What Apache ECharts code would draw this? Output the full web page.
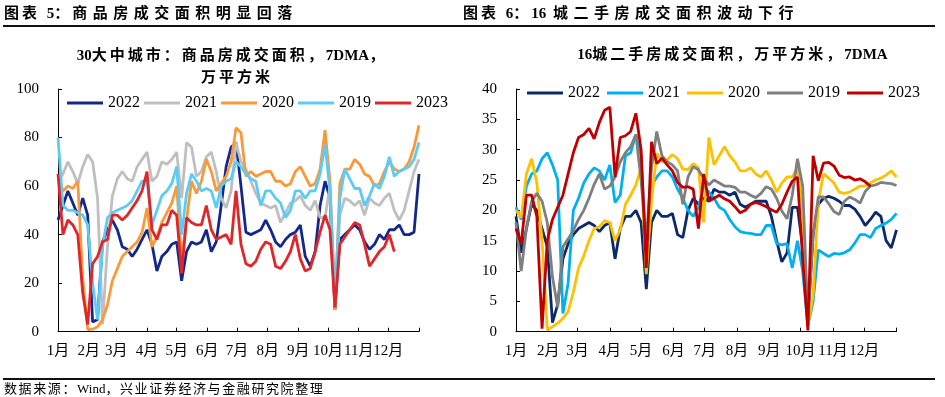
<!DOCTYPE html>
<html>
<head>
<meta charset="utf-8">
<script src="https://cdn.jsdelivr.net/npm/echarts@6/dist/echarts.min.js"></script>
<style>
  html, body { margin: 0; padding: 0; background: #fff; }
  #page { position: relative; width: 945px; height: 397px; overflow: hidden; }
  #chartL { position: absolute; left: 0; top: 0; width: 470px; height: 397px; }
  #chartR { position: absolute; left: 470px; top: 0; width: 475px; height: 397px; }
  .txt { position: absolute; white-space: nowrap; color: #000;
         font-family: 'Liberation Serif', 'Noto Sans CJK SC', serif; z-index: 2; }
  .head { font-size: 15px; font-weight: bold; top: 4px; line-height: 18px; letter-spacing: 3px; }
  .head .w { letter-spacing: 5.5px; }
  .ctitle { font-size: 15px; font-weight: bold; letter-spacing: 3px; text-align: center; line-height: 18px; }
  .lat { letter-spacing: 0; }
  .rule { position: absolute; left: 3px; width: 932px; height: 2px; background: #111; z-index: 2; }
  .src { font-size: 13px; letter-spacing: 1.6px; left: 4px; top: 381px; line-height: 16px; }
</style>
</head>
<body>
<div id="page">
  <div class="txt head" style="left:4px">图表 <span class="lat">5</span>：<span class="w">商品房成交面积明显回落</span></div>
  <div class="txt head" style="left:463px">图表 <span class="lat">6</span>：<span class="lat">16</span> <span class="w">城二手房成交面积波动下行</span></div>
  <div class="rule" style="top:25px"></div>
  <div class="txt ctitle" style="left:62px; width:340px; top:46px"><span class="lat">30</span>大中城市：商品房成交面积，<span class="lat">7DMA</span>，</div>
  <div class="txt ctitle" style="left:162px; width:150px; top:68px">万平方米</div>
  <div class="txt ctitle" style="left:560px; width:345px; top:45px"><span class="lat">16</span>城二手房成交面积，万平方米，<span class="lat">7DMA</span></div>
  <div id="chartL"></div>
  <div id="chartR"></div>
  <div class="rule" style="top:378px"></div>
  <div class="txt src">数据来源：<span class="lat">Wind</span>，兴业证券经济与金融研究院整理</div>
</div>
<script>
// 每 5 天取一个点（第 0,5,10,...,365 天）
const STEP = 5
const MONTH_START = [0, 31, 59, 90, 120, 151, 181, 212, 243, 273, 304, 334]
const MONTHS = ['1月', '2月', '3月', '4月', '5月', '6月', '7月', '8月', '9月', '10月', '11月', '12月']
const YEARS = ['2022', '2021', '2020', '2019', '2023']

// 30大中城市 商品房成交面积 7DMA，万平方米
const new2022 = [46, 52, 58, 53, 48, 55, 48, 4, 5, 37, 42, 46, 42, 35, 34, 31, 34, 38, 42, 36,
  25, 31, 33, 36, 37, 21, 33, 37, 36, 37, 42, 33, 37, 52, 68, 76, 78, 60, 41, 40,
  41, 42, 46, 42, 37, 35, 38, 40, 41, 44, 31, 27, 33, 52, 62, 55, 9, 38, 40, 42,
  44, 42, 37, 34, 36, 40, 38, 42, 42, 44, 40, 40, 41, 65]
const new2021 = [62, 65, 70, 66, 61, 68, 73, 70, 55, 3, 35, 56, 63, 66, 63, 62, 68, 71, 74, 62,
  64, 70, 69, 71, 74, 55, 78, 76, 64, 66, 72, 74, 66, 55, 51, 58, 78, 70, 67, 62,
  57, 53, 52, 51, 52, 45, 49, 53, 54, 56, 52, 50, 54, 47, 47, 60, 12, 48, 55, 54,
  52, 54, 48, 55, 53, 52, 55, 57, 50, 46, 50, 58, 66, 71]
const new2020 = [64, 58, 60, 59, 62, 22, 1, 1, 2, 5, 11, 21, 26, 31, 33, 35, 37, 41, 51, 35,
  39, 45, 49, 53, 60, 30, 46, 62, 57, 62, 71, 66, 58, 61, 64, 70, 84, 82, 64, 66,
  64, 65, 66, 66, 62, 62, 60, 61, 66, 68, 64, 60, 61, 67, 83, 62, 9, 61, 67, 67,
  71, 69, 65, 64, 60, 61, 66, 70, 67, 66, 67, 70, 76, 85]
const new2019 = [80, 52, 50, 50, 49, 48, 44, 20, 5, 35, 47, 49, 50, 51, 52, 54, 58, 62, 62, 44,
  50, 56, 58, 61, 68, 40, 57, 65, 62, 58, 59, 58, 51, 60, 62, 63, 70, 68, 65, 63,
  62, 52, 58, 58, 55, 53, 47, 50, 58, 58, 55, 58, 58, 65, 77, 58, 12, 55, 67, 63,
  59, 59, 52, 56, 61, 59, 64, 72, 64, 66, 67, 68, 71, 78]
const new2023 = [65, 40, 46, 44, 40, 16, 3, 28, 31, 37, 38, 48, 48, 46, 48, 51, 54, 58, 66, 42,
  38, 44, 44, 50, 48, 24, 47, 45, 44, 44, 52, 42, 38, 39, 40, 36, 58, 36, 28, 27,
  29, 34, 37, 36, 27, 26, 29, 33, 40, 30, 25, 26, 33, 41, 48, 42, 10, 36, 39, 42,
  45, 44, 36, 27, 30, 33, 35, 40, 33]

// 16城 二手房成交面积 7DMA，万平方米
const sec2022 = [19, 13, 17, 21, 20, 17, 14, 1.5, 4.5, 12, 14.5, 16, 17, 17.5, 18, 17.5, 16.5, 17.5, 18, 12,
  17, 19, 19, 20, 18, 7, 18, 20, 19, 19, 19.5, 16, 15.5, 20, 22, 21, 22, 21.5, 23.5, 23,
  23, 22.5, 23, 21, 20.5, 21, 21.5, 21.5, 21.5, 19, 15, 11.5, 13, 20.5, 20.5, 14, 2, 16, 21, 22,
  22.3, 22, 21.5, 20.8, 20.8, 20.2, 19, 17.5, 18.5, 19.7, 19, 15, 13.8, 16.8]
const sec2021 = [20.5, 18.5, 24, 26, 26.5, 28.5, 29.5, 27.5, 25, 3, 8, 20, 22, 24.5, 26, 27, 26.5, 25, 27.5, 21.3,
  22.5, 29, 29.5, 32.5, 29, 12.4, 24, 25.5, 26.5, 26.5, 25.5, 23.5, 22, 20, 19, 20.5, 24, 23, 22, 20.5,
  20, 18.5, 17.3, 16.5, 16.3, 16.2, 16, 16, 17.5, 17.5, 14.5, 14.3, 14.5, 10.5, 15, 10, 1, 5, 13.5, 12.9,
  12.4, 12.9, 12.8, 13, 13.5, 14.6, 16, 16, 15.5, 17, 17.5, 17.9, 18.5, 19.5]
const sec2020 = [20, 18.8, 26, 28.5, 24.5, 15, 0.3, 0.8, 1.4, 2.2, 3.3, 6.5, 10.5, 12.5, 15, 17, 17.3, 18.3, 18, 15,
  16.8, 21, 22.5, 24.2, 27, 9.5, 21.5, 29.4, 28, 28.3, 29.2, 28.5, 26.8, 26.7, 27.7, 27, 18, 32, 27.5, 29,
  30.5, 29, 28, 26.5, 26.5, 27, 26, 25.5, 26.5, 25, 23, 24.5, 25.5, 25.5, 27, 20, 1, 6, 21.5, 26,
  25.3, 24.5, 23, 22.8, 23, 23.5, 24, 24, 24.5, 25, 25.3, 25.8, 26.5, 25.5]
const sec2019 = [18, 10, 17, 21.5, 22.8, 21.5, 18, 9, 4, 14, 15.3, 16.7, 18.5, 20, 22, 24.3, 26, 23.5, 24, 25.5,
  28, 29.5, 30.5, 32.5, 25, 15, 27, 33, 29, 28, 27.5, 26.5, 21, 25.5, 27.2, 26.7, 25.3, 24.2, 25, 24.5,
  24, 24, 23.8, 23, 23, 22.5, 22.1, 22.8, 23.9, 23.5, 22, 19.9, 18.6, 22.5, 28.5, 24, 2, 16, 22.2, 22.2,
  21.1, 19.8, 19.3, 21.5, 22.2, 21.8, 21.2, 23.1, 24, 24.2, 24.6, 24.5, 24.4, 24.1]
const sec2023 = [17, 14.5, 22.5, 22.5, 19, 0.5, 15, 18.5, 20.5, 22.5, 26, 29.5, 32, 32.5, 33.5, 31.8, 34.5, 36.5, 37, 25.5,
  32, 32.3, 33, 36, 30, 10.5, 31.3, 27.7, 28.6, 27.5, 26.5, 24.6, 23.8, 23.9, 23.5, 17, 26, 21.5, 22, 22.5,
  21.9, 21.5, 20.6, 19.6, 20, 21, 21.3, 21, 20.6, 20.1, 19.7, 21, 23, 24.8, 25.5, 12, 0.2, 29, 24.9, 27.8,
  27.9, 27.3, 25.8, 25.4, 25.5, 25, 25.2, 24.7, 24]

const FONT = "'Liberation Serif', 'Noto Sans CJK SC', serif"

function toPoints (vals) {
  return vals.map(function (v, i) { return [i * STEP, v] })
}

function monthAxis () {
  return {
    type: 'value',
    min: 0,
    max: 365,
    axisLine: { lineStyle: { color: '#000', width: 1 } },
    axisTick: { inside: true, length: 4, lineStyle: { color: '#000' }, customValues: MONTH_START.concat([365]) },
    axisLabel: {
      customValues: MONTH_START,
      formatter: function (v) { return MONTHS[MONTH_START.indexOf(v)] },
      color: '#000',
      fontSize: 15,
      fontFamily: FONT,
      margin: 12
    },
    splitLine: { show: false }
  }
}

function valueAxis (max, interval) {
  return {
    type: 'value',
    min: 0,
    max: max,
    interval: interval,
    axisLine: { show: true, lineStyle: { color: '#000', width: 1 } },
    axisTick: { show: true, inside: true, length: 4, lineStyle: { color: '#000' } },
    axisLabel: { color: '#000', fontSize: 15, fontFamily: FONT, margin: 19 },
    splitLine: { show: false }
  }
}

function buildOption (grid, legendPos, yMax, yInterval, seriesVals, colors) {
  return {
    animation: false,
    backgroundColor: 'transparent',
    grid: grid,
    legend: Object.assign({
      data: YEARS,
      icon: 'rect',
      itemWidth: 36,
      itemHeight: 3,
      textStyle: { color: '#000', fontSize: 16, fontFamily: FONT }
    }, legendPos),
    xAxis: monthAxis(),
    yAxis: valueAxis(yMax, yInterval),
    series: YEARS.map(function (name, i) {
      return {
        name: name,
        type: 'line',
        data: toPoints(seriesVals[i]),
        showSymbol: false,
        symbol: 'none',
        color: colors[i],
        lineStyle: { width: 2.8, color: colors[i] }
      }
    })
  }
}

const chartL = echarts.init(document.getElementById('chartL'))
chartL.setOption(buildOption(
  { left: 58, top: 89, width: 361, height: 242.7 },
  { left: 62, top: 90, itemGap: 4 },
  100, 20,
  [new2022, new2021, new2020, new2019, new2023],
  ['#13288a', '#bfbfbf', '#f8993a', '#5ccbf5', '#e1262a']))

const chartR = echarts.init(document.getElementById('chartR'))
chartR.setOption(buildOption(
  { left: 46, top: 89, width: 380.5, height: 242.7 },
  { left: 52, top: 80, itemGap: 7 },
  40, 5,
  [sec2022, sec2021, sec2020, sec2019, sec2023],
  ['#0c2a6a', '#00b0f0', '#ffc000', '#7f7f7f', '#c00000']))
</script>
</body>
</html>
